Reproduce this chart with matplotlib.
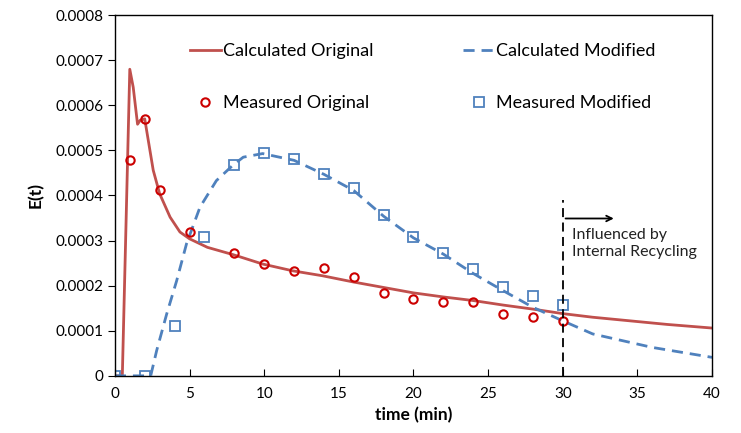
import matplotlib
matplotlib.use("Agg")
import matplotlib.pyplot as plt

plt.rcParams['font.family'] = ['Lato', 'DejaVu Sans']

# calculated curves
calc_orig_t = [0, 0.5, 1.0, 1.23, 1.52, 1.7, 2.0, 2.57, 3.0, 3.7, 4.36, 5.0, 6.2, 7.9, 9.9,
               11.9, 13.9, 16, 18, 20, 22, 24, 26, 28, 30, 32, 34.5, 37, 40]
calc_orig_e = [0, 0, 0.00068, 0.00064, 0.000558, 0.000567, 0.00057, 0.000456, 0.000404, 0.000352,
               0.000319, 0.000304, 0.000285, 0.000269, 0.000248, 0.000233, 0.000222, 0.000208,
               0.000196, 0.000184, 0.000175, 0.000167, 0.000157, 0.000148, 0.000138, 0.00013,
               0.000122, 0.000114, 0.000106]

calc_mod_t = [0, 2.4, 2.8, 3.47, 4.14, 4.8, 5.7, 6.8, 7.9, 8.6, 9.9, 12, 14, 16, 18, 20, 22,
              24, 26, 28, 30, 32, 34, 36, 38, 40]
calc_mod_e = [0, 0, 0.000056, 0.000137, 0.000211, 0.000293, 0.000374, 0.000433, 0.000467,
              0.000485, 0.000493, 0.000478, 0.000447, 0.000411, 0.000354, 0.000306, 0.00027,
              0.000227, 0.000189, 0.000152, 0.000122, 0.000093, 0.000078, 0.000063, 0.000052,
              0.000041]

# measured points
meas_orig_t = [1, 2, 3, 5, 8, 10, 12, 14, 16, 18, 20, 22, 24, 26, 28, 30]
meas_orig_e = [0.000478, 0.00057, 0.000413, 0.000318, 0.000273, 0.000247, 0.000233, 0.00024,
               0.00022, 0.000184, 0.00017, 0.000164, 0.000164, 0.000137, 0.000131, 0.000122]

meas_mod_t = [0, 2, 4, 6, 8, 10, 12, 14, 16, 18, 20, 22, 24, 26, 28, 30]
meas_mod_e = [0, 0, 0.00011, 0.000308, 0.000467, 0.000495, 0.00048, 0.000447, 0.000416,
              0.000356, 0.000307, 0.000273, 0.000238, 0.000198, 0.000178, 0.000158]

red_line = '#C0504D'
red_mark = '#CC0000'
blue = '#4F81BD'

fig = plt.figure(figsize=(7.41, 4.33), dpi=100)
ax = fig.add_axes([0.155, 0.132, 0.806, 0.833])

l1, = ax.plot(calc_orig_t, calc_orig_e, color=red_line, lw=2.0, label='Calculated Original')
l2, = ax.plot(calc_mod_t, calc_mod_e, color=blue, lw=2.0, ls=(0, (4, 2.5)),
              label='Calculated Modified')
l3, = ax.plot(meas_orig_t, meas_orig_e, 'o', mfc='none', mec=red_mark, mew=1.5, ms=6,
              label='Measured Original')
l4, = ax.plot(meas_mod_t, meas_mod_e, 's', mfc='none', mec=blue, mew=1.3, ms=6.5,
              label='Measured Modified')

# annotation
ax.plot([30, 30], [0, 0.000391], color='black', lw=1.3, ls=(0, (5, 3)))
ax.annotate('', xy=(33.6, 0.000349), xytext=(30, 0.000349),
            arrowprops=dict(arrowstyle='->', color='black', lw=1.3))
ax.text(30.6, 0.000293, 'Influenced by\nInternal Recycling', fontsize=11.5,
        va='center', ha='left', linespacing=1.3, color='#222222')

ax.set_xlim(0, 40)
ax.set_ylim(0, 0.0008)
ax.set_xticks(range(0, 41, 5))
ax.set_yticks([i * 0.0001 for i in range(9)])
ax.set_yticklabels(['0'] + ['0.000%d' % i for i in range(1, 9)])
ax.tick_params(axis='x', direction='in', length=5, labelsize=11, pad=8)
ax.tick_params(axis='y', direction='out', length=5, labelsize=11)
ax.set_xlabel('time (min)', fontsize=12.5, fontweight='bold', labelpad=4)
ax.set_ylabel('E(t)', fontsize=12.5, fontweight='bold', labelpad=8)
for s in ax.spines.values():
    s.set_linewidth(1.0)
    s.set_color('black')

ax.legend([l1, l3, l2, l4],
          ['Calculated Original', 'Measured Original', 'Calculated Modified', 'Measured Modified'],
          loc='upper left', bbox_to_anchor=(0.126, 0.922), ncol=2, frameon=False,
          fontsize=13, handlelength=1.7, handletextpad=0.1, columnspacing=5.0,
          labelspacing=2.0, borderpad=0, borderaxespad=0)

fig.savefig('out.png', dpi=100)
